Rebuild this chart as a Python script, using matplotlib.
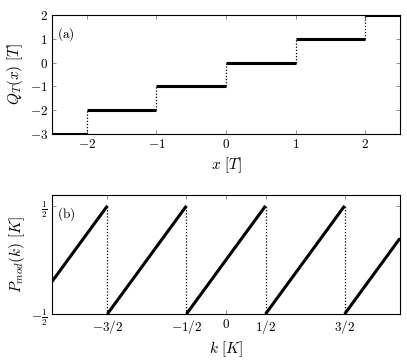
import matplotlib
matplotlib.use("Agg")
import matplotlib.pyplot as plt

plt.rcParams['mathtext.fontset'] = 'cm'
plt.rcParams['font.family'] = 'serif'
plt.rcParams['font.serif'] = ['DejaVu Serif']

# Panel (a): step function
step_edges = [-2.5, -2, -1, 0, 1, 2, 2.5]
step_levels = [-3, -2, -1, 0, 1, 2]
jump_x = [-2, -1, 0, 1, 2]
a_xticks = [-2, -1, 0, 1, 2]
a_xticklabels = [r'$-2$', r'$-1$', r'$0$', r'$1$', r'$2$']
a_yticks = [-3, -2, -1, 0, 1, 2]
a_yticklabels = [r'$-3$', r'$-2$', r'$-1$', r'$0$', r'$1$', r'$2$']

# Panel (b): sawtooth segments
seg_k_start = [-2.2, -1.5, -0.5, 0.5, 1.5]
seg_k_end = [-1.5, -0.5, 0.5, 1.5, 2.2]
seg_p_start = [-0.2, -0.5, -0.5, -0.5, -0.5]
seg_p_end = [0.5, 0.5, 0.5, 0.5, 0.2]
b_jump_k = [-1.5, -0.5, 0.5, 1.5]
b_xticks = [-1.5, -0.5, 0, 0.5, 1.5]
b_xticklabels = [r'$-3/2$', r'$-1/2$', r'$0$', r'$1/2$', r'$3/2$']
b_yticks = [-0.5, 0.5]
b_yticklabels = [r'$-\frac{1}{2}$', r'$\frac{1}{2}$']

fig = plt.figure(figsize=(4.07, 3.63), dpi=100)
ax1 = fig.add_axes([0.1278, 0.6309, 0.855, 0.3278])
ax2 = fig.add_axes([0.1278, 0.135, 0.855, 0.3278])

fs_tick = 9.5
fs_lab = 11

def style(ax):
    for s in ax.spines.values():
        s.set_linewidth(0.8)
    ax.tick_params(direction='in', top=True, right=True, length=3, width=0.6,
                   color='0.5', labelsize=fs_tick, pad=3)

# Panel (a)
for i, lev in enumerate(step_levels):
    ax1.plot([step_edges[i], step_edges[i + 1]], [lev, lev], color='black', lw=2.2,
             solid_capstyle='butt')
for i, xj in enumerate(jump_x):
    ax1.plot([xj, xj], [step_levels[i], step_levels[i + 1]], color='black', lw=0.9,
             ls=(0, (1, 1.5)))
ax1.set_xlim(-2.5, 2.5)
ax1.set_ylim(-3, 2)
ax1.set_xticks(a_xticks)
ax1.set_xticklabels(a_xticklabels)
ax1.set_yticks(a_yticks)
ax1.set_yticklabels(a_yticklabels)
ax1.set_xlabel(r'$x\ [T]$', fontsize=fs_lab, labelpad=3)
ax1.set_ylabel(r'$Q_T(x)\ [T]$', fontsize=fs_lab, labelpad=3)
ax1.text(0.015, 0.84, r'$\mathrm{(a)}$', transform=ax1.transAxes, fontsize=fs_tick,
         va='center', ha='left')
style(ax1)

# Panel (b)
for k0, k1, p0, p1 in zip(seg_k_start, seg_k_end, seg_p_start, seg_p_end):
    ax2.plot([k0, k1], [p0, p1], color='black', lw=2.2, solid_capstyle='butt')
for kj in b_jump_k:
    ax2.plot([kj, kj], [-0.5, 0.5], color='black', lw=0.9, ls=(0, (1, 1.5)))
ax2.set_xlim(-2.2, 2.2)
ax2.set_ylim(-0.5, 0.6)
ax2.set_xticks(b_xticks)
ax2.set_xticklabels(b_xticklabels)
ax2.set_yticks(b_yticks)
ax2.set_yticklabels(b_yticklabels)
ax2.set_xlabel(r'$k\ [K]$', fontsize=fs_lab, labelpad=2)
ax2.set_ylabel(r'$P_{mod}(k)\ [K]$', fontsize=fs_lab, labelpad=3)
ax2.text(0.015, 0.84, r'$\mathrm{(b)}$', transform=ax2.transAxes, fontsize=fs_tick,
         va='center', ha='left')
style(ax2)

fig.savefig('out.png', dpi=100)
